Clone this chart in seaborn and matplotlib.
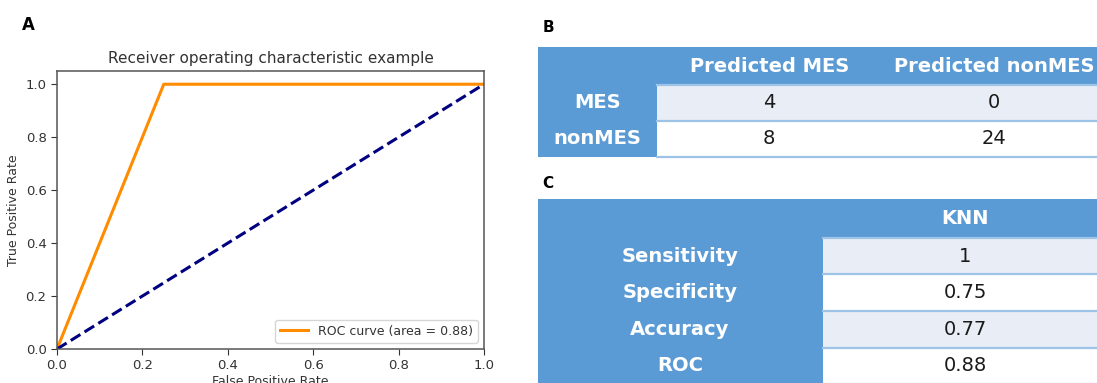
import numpy as np
import matplotlib
matplotlib.use("Agg")
import matplotlib.pyplot as plt
from matplotlib.colors import ListedColormap
from matplotlib.transforms import blended_transform_factory
import seaborn as sns

# ROC curve points for the KNN classifier
fpr = [0.0, 0.25, 1.0]
tpr = [0.0, 1.0, 1.0]
chance_x = [0.0, 1.0]
chance_y = [0.0, 1.0]
roc_auc = 0.88

# Confusion matrix
actual_classes = ["MES", "nonMES"]
predicted_classes = ["Predicted MES", "Predicted nonMES"]
confusion = [[4, 0],
             [8, 24]]

# Performance summary
model_names = ["KNN"]
metric_names = ["Sensitivity", "Specificity", "Accuracy", "ROC"]
metric_values = [1, 0.75, 0.77, 0.88]

HEADER_BLUE = "#5B9BD5"
STRIPE_LIGHT = "#E9EDF5"
RULE_BLUE = "#9DC3E6"
TEXT_GREY = "#333333"

W, H = 1097, 383
fig = plt.figure(figsize=(W / 100, H / 100), dpi=100)


def px_axes(x0, y0, x1, y1):
    """Axes placed by pixel box (top-left origin)."""
    return fig.add_axes([x0 / W, 1 - y1 / H, (x1 - x0) / W, (y1 - y0) / H])


# ---------------- Panel A: ROC curve ----------------
ax = px_axes(57, 71, 484, 349)
sns.lineplot(x=fpr, y=tpr, ax=ax, color="darkorange", lw=2.2,
             label=f"ROC curve (area = {roc_auc:.2f})", estimator=None, sort=False)
sns.lineplot(x=chance_x, y=chance_y, ax=ax, color="navy", lw=2.2,
             linestyle="--", estimator=None, sort=False)
ax.set_xlim(0.0, 1.0)
ax.set_ylim(0.0, 1.05)
ax.set_xticks(np.arange(0, 1.01, 0.2))
ax.set_yticks(np.arange(0, 1.01, 0.2))
ax.tick_params(labelsize=9.5, colors=TEXT_GREY, length=4)
for sp in ax.spines.values():
    sp.set_color("#555555")
    sp.set_linewidth(1.1)
ax.set_xlabel("False Positive Rate", fontsize=9, color=TEXT_GREY, labelpad=2)
ax.set_ylabel("True Positive Rate", fontsize=9, color=TEXT_GREY)
ax.set_title("Receiver operating characteristic example", fontsize=11,
             color=TEXT_GREY, pad=6)
leg = ax.legend(loc="lower right", fontsize=9, handlelength=2.2)
for t in leg.get_texts():
    t.set_color(TEXT_GREY)

fig.text(28 / W, 1 - 25 / H, "A", fontsize=12, fontweight="bold",
         ha="center", va="center")
fig.text(548 / W, 1 - 27 / H, "B", fontsize=11, fontweight="bold",
         ha="center", va="center")
fig.text(548 / W, 1 - 183 / H, "C", fontsize=11, fontweight="bold",
         ha="center", va="center")


def draw_table(box, cells, values, labels, col_labels, row_labels,
               label_center_px, header_rows):
    bx0, by0, bx1, by1 = box
    bg = px_axes(bx0, by0, bx1, by1)
    bg.set_facecolor(HEADER_BLUE)
    bg.set_xlim(bx0, bx1)
    bg.set_xticks([])
    bg.set_yticks([])
    for sp in bg.spines.values():
        sp.set_visible(False)

    hm = px_axes(*cells)
    n_rows = len(values)
    stripe = np.tile((np.arange(n_rows) % 2)[:, None], (1, len(values[0])))
    sns.heatmap(stripe, ax=hm, cmap=ListedColormap([STRIPE_LIGHT, "white"]),
                vmin=0, vmax=1, cbar=False, annot=np.array(labels), fmt="",
                annot_kws={"fontsize": 14, "color": "#1a1a1a"},
                xticklabels=False, yticklabels=False)
    hm.set_xticks([])
    hm.set_yticks([])
    for r in range(n_rows + 1):
        hm.axhline(r, color=RULE_BLUE, lw=1.6, clip_on=False)

    for j, name in enumerate(col_labels):
        hm.text(j + 0.5, -header_rows, name, ha="center", va="center",
                fontsize=14, fontweight="bold", color="white", clip_on=False)
    trans = blended_transform_factory(bg.transData, hm.transData)
    for i, name in enumerate(row_labels):
        hm.text(label_center_px, i + 0.5, name, transform=trans,
                ha="center", va="center", fontsize=14, fontweight="bold",
                color="white", clip_on=False)


# ---------------- Panel B: confusion matrix ----------------
draw_table(box=(538, 47, 1110, 157), cells=(657, 85, 1106, 157),
           values=confusion,
           labels=[[str(v) for v in row] for row in confusion],
           col_labels=predicted_classes, row_labels=actual_classes,
           label_center_px=597.5, header_rows=0.52)

# ---------------- Panel C: metrics ----------------
draw_table(box=(538, 199, 1110, 390), cells=(823, 238, 1107, 384),
           values=[[v] for v in metric_values],
           labels=[[f"{v:g}"] for v in metric_values],
           col_labels=model_names, row_labels=metric_names,
           label_center_px=680, header_rows=0.53)

fig.savefig("out.png", dpi=100)
